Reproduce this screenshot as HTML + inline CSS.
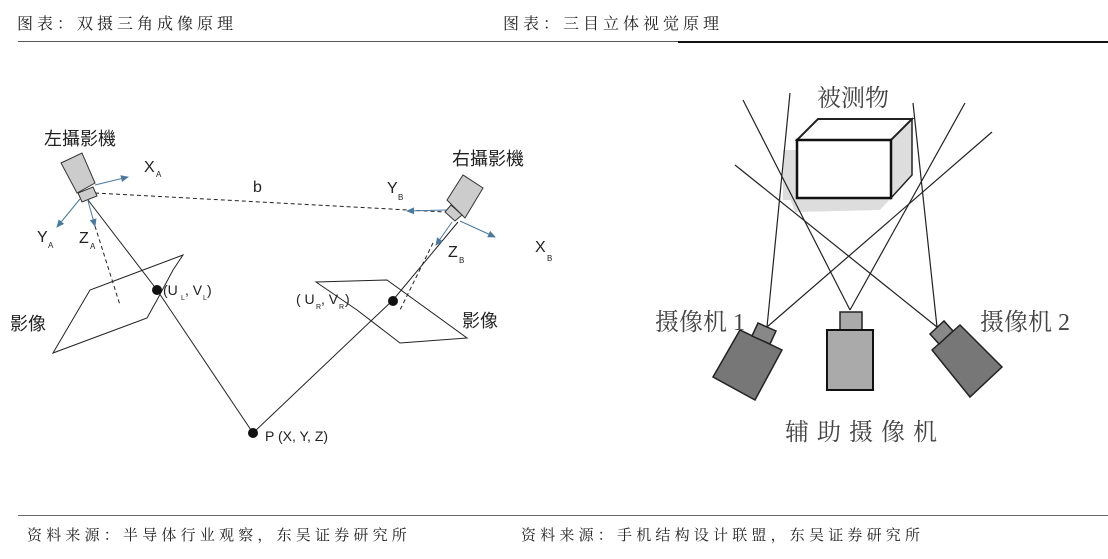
<!DOCTYPE html>
<html><head><meta charset="utf-8"><style>
body{margin:0;width:1108px;height:559px;background:#fff;overflow:hidden;position:relative}
.t{position:absolute;font-family:"Liberation Serif","Noto Serif CJK SC",serif;color:#222;white-space:nowrap}
.h{font-size:16px;letter-spacing:4px;top:11px}
.f{font-size:15px;letter-spacing:4.2px;top:524px}
</style></head><body>
<div class="t h" style="left:17px">图表：双摄三角成像原理</div>
<div class="t h" style="left:503px">图表：三目立体视觉原理</div>
<div style="position:absolute;left:18px;top:41px;width:660px;height:1px;background:#555"></div>
<div style="position:absolute;left:678px;top:41px;width:430px;height:2px;background:#111"></div>
<div style="position:absolute;left:18px;top:515px;width:1090px;height:1px;background:#666"></div>
<div class="t f" style="left:27px">资料来源：半导体行业观察，东吴证券研究所</div>
<div class="t f" style="left:521px">资料来源：手机结构设计联盟，东吴证券研究所</div>
<svg width="1108" height="559" style="position:absolute;left:0;top:0" font-family="Liberation Sans, Noto Sans CJK SC, sans-serif">
<defs><marker id="a" markerWidth="8" markerHeight="8" refX="7" refY="4" orient="auto" markerUnits="userSpaceOnUse"><path d="M0,0.5 L8,4 L0,7.5 Z" fill="#4a7aa0"/></marker></defs>
<g stroke="#222" stroke-width="1" fill="none">
<polygon points="53,353 90,290 183,255 173,270 157,300 147,318"/>
<polygon points="316,282 387,280 467,338 400,343 357,310"/>
<polyline points="88,200 157,290 253,433 393,300 458,222"/>
<line x1="95" y1="193" x2="445" y2="212" stroke-dasharray="4,3"/>
<line x1="95" y1="226" x2="120" y2="305" stroke-dasharray="4,3"/>
<line x1="433" y1="243" x2="400" y2="310" stroke-dasharray="4,3"/>
</g>
<polygon points="61,163 82,153 95,183 77,193" fill="#ccc" stroke="#333"/>
<polygon points="78,193 93,187 97,196 82,202" fill="#ccc" stroke="#333"/>
<polygon points="447,200 463,175 483,188 465,218" fill="#ccc" stroke="#333"/>
<polygon points="445,212 451,205 462,215 455,221" fill="#ccc" stroke="#333"/>
<g stroke="#4a7aa0" stroke-width="1" marker-end="url(#a)">
<line x1="95" y1="185" x2="128" y2="177"/>
<line x1="80" y1="199" x2="57" y2="227"/>
<line x1="88" y1="201" x2="95" y2="226"/>
<line x1="446" y1="210" x2="407" y2="211"/>
<line x1="460" y1="221" x2="495" y2="237"/>
<line x1="452" y1="222" x2="436" y2="245"/>
</g>
<g fill="#111"><circle cx="157" cy="290" r="5"/><circle cx="393" cy="301" r="5"/><circle cx="253" cy="433" r="5"/></g>
<g fill="#222" font-size="18">
<text x="44" y="145">左攝影機</text><text x="452" y="165">右攝影機</text>
<text x="10" y="330">影像</text><text x="462" y="327">影像</text>
</g>
<g fill="#222" font-size="16">
<text x="144" y="172">X</text><text x="156" y="177" font-size="8">A</text>
<text x="37" y="242">Y</text><text x="48" y="248" font-size="8">A</text>
<text x="79" y="243">Z</text><text x="90" y="249" font-size="8">A</text>
<text x="253" y="192">b</text>
<text x="387" y="193">Y</text><text x="398" y="200" font-size="8">B</text>
<text x="448" y="257">Z</text><text x="459" y="263" font-size="8">B</text>
<text x="535" y="252">X</text><text x="547" y="261" font-size="8">B</text>
<text x="163" y="295" font-size="14">(U</text><text x="181" y="300" font-size="7">L</text><text x="185" y="295" font-size="14">, V</text><text x="203" y="300" font-size="7">L</text><text x="207" y="295" font-size="14">)</text>
<text x="296" y="304" font-size="14">( U</text><text x="316" y="309" font-size="7">R</text><text x="321" y="304" font-size="14">, V</text><text x="339" y="309" font-size="7">R</text><text x="345" y="304" font-size="14">)</text>
<text x="265" y="441" font-size="14">P (X, Y, Z)</text>
</g>
<rect x="783" y="150" width="14" height="50" fill="#ddd"/>
<polygon points="790,198 891,198 880,210 795,212" fill="#ddd"/>
<polygon points="891,140 912,119 912,175 891,198" fill="#ddd" stroke="#222" stroke-width="1.5"/>
<polygon points="797,140 818,119 912,119 891,140" fill="#fff" stroke="#222" stroke-width="2"/>
<rect x="797" y="140" width="94" height="58" fill="#fff" stroke="#111" stroke-width="2.5"/>
<g stroke="#222" stroke-width="1.2">
<line x1="790" y1="93" x2="767" y2="327"/>
<line x1="992" y1="132" x2="767" y2="327"/>
<line x1="743" y1="100" x2="850" y2="310"/>
<line x1="965" y1="103" x2="850" y2="310"/>
<line x1="735" y1="165" x2="937" y2="327"/>
<line x1="913" y1="103" x2="937" y2="327"/>
</g>
<polygon points="713,377 740,330 782,350 755,400" fill="#777" stroke="#222" stroke-width="1.5"/>
<polygon points="752,336 758,323 776,331 770,344" fill="#888" stroke="#222" stroke-width="1.5"/>
<rect x="840" y="312" width="22" height="18" fill="#aaa" stroke="#222" stroke-width="1.5"/>
<rect x="827" y="330" width="46" height="60" fill="#aaa" stroke="#111" stroke-width="2"/>
<polygon points="932,350 960,325 1002,367 970,397" fill="#777" stroke="#222" stroke-width="1.5"/>
<polygon points="939,344 930,334 944,321 953,331" fill="#888" stroke="#222" stroke-width="1.5"/>
<g fill="#444" font-family="Liberation Serif, Noto Serif CJK SC, serif" font-size="24">
<text x="817" y="106">被测物</text>
<text x="655" y="330">摄像机 1</text>
<text x="980" y="330">摄像机 2</text>
<text x="785" y="440" letter-spacing="8">辅助摄像机</text>
</g>
</svg>
</body></html>
